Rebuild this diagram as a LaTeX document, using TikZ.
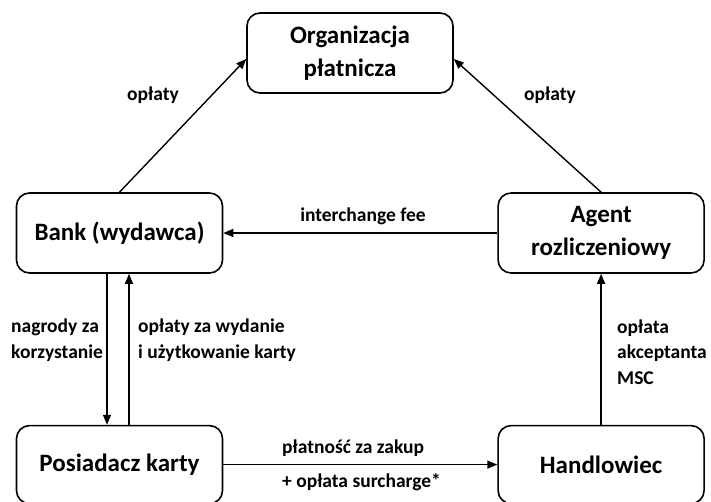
\documentclass[tikz,border=0pt]{standalone}
\usepackage{fontspec}
\setmainfont{Carlito}
\usepackage{tikz}
\usetikzlibrary{positioning,arrows.meta}

\begin{document}
\begin{tikzpicture}[
  x=1pt, y=-1pt,
  >={Triangle[length=10pt,width=8pt]},
  party/.style={draw, rounded corners=13pt, line width=1.6pt, align=center, minimum width=206pt, minimum height=80pt, inner sep=0pt, font=\fontsize{25}{33.5}\selectfont\bfseries},
  tag/.style={align=left, inner sep=0pt, font=\fontsize{19.5}{25.5}\selectfont\bfseries},
  flow/.style={->, line width=1.4pt}
]
  \useasboundingbox (0,0) rectangle (711,502);
  \node[party] (org) at (350,53) {Organizacja\\ płatnicza};
  \node[party] (bank) at (119.5,233) {Bank (wydawca)};
  \node[party, right=274pt of bank] (agent) {Agent\\ rozliczeniowy};
  \node[party, below=151pt of bank, minimum height=78pt] (holder) {Posiadacz karty};
  \node[party, below=151pt of agent, minimum height=78pt] (merchant) {Handlowiec};

  \draw[flow] (bank.north) -- ([yshift=-6pt]org.west);
  \draw[flow] (agent.north) -- ([yshift=-6pt]org.east);
  \draw[flow] (agent.west) -- (bank.east);
  \draw[flow] ([xshift=-12.5pt]bank.south) -- ([xshift=-12.5pt]holder.north);
  \draw[flow] ([xshift=9.5pt]holder.north) -- ([xshift=9.5pt]bank.south);
  \draw[flow] (holder.east) -- (merchant.west);
  \draw[flow] (merchant.north) -- (agent.south);

  \node[tag] (feeorg) at (153,95) {opłaty};
  \node[tag] (feeacq) at (550,95) {opłaty};
  \node[tag] (interchange) at (363,216) {interchange fee};
  \node[tag, anchor=west] (rewards) at (11,340) {nagrody za\\ korzystanie};
  \node[tag, anchor=west] (cardfees) at (138,340) {opłaty za wydanie\\ i użytkowanie karty};
  \node[tag, anchor=west] (msc) at (617,352) {opłata\\ akceptanta\\ MSC};
  \node[tag, anchor=west] (payment) at (282,448) {płatność za zakup};
  \node[tag, anchor=west] (surcharge) at (282,482) {+ opłata surcharge*};
\end{tikzpicture}
\end{document}
